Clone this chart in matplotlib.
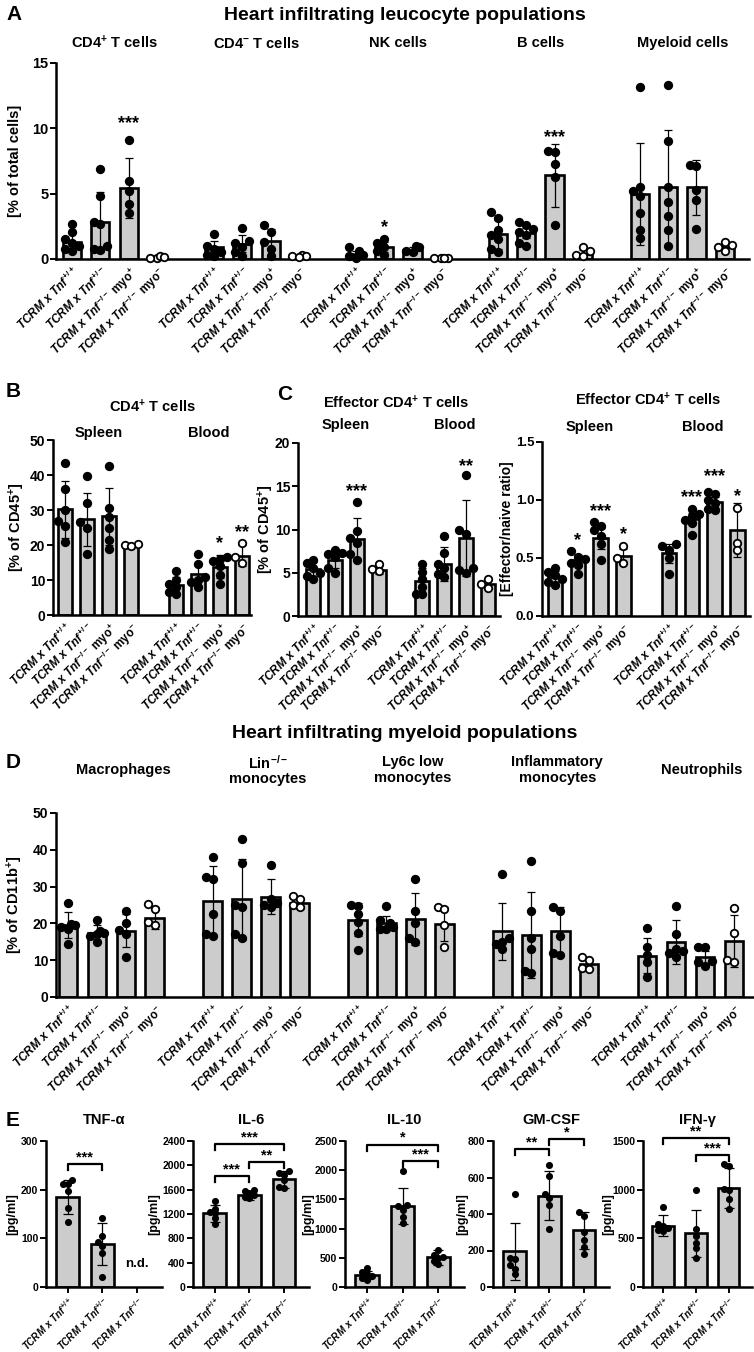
import matplotlib
matplotlib.use('Agg')
import matplotlib.pyplot as plt
from matplotlib import font_manager
from matplotlib.transforms import blended_transform_factory
import numpy as np

# ---------------- data ----------------
lab4 = [r'$\mathbfit{TCRM\ x}\ \mathit{Tnf}^{+/+}$',
        r'$\mathbfit{TCRM\ x}\ \mathit{Tnf}^{+/-}$',
        r'$\mathbfit{TCRM\ x}\ \mathit{Tnf}^{-/-}\ \mathbf{myo}^{\mathbf{+}}$',
        r'$\mathbfit{TCRM\ x}\ \mathit{Tnf}^{-/-}\ \mathbf{myo}^{\mathbf{-}}$']
lab3 = [r'$\mathbfit{TCRM\ x}\ \mathit{Tnf}^{+/+}$',
        r'$\mathbfit{TCRM\ x}\ \mathit{Tnf}^{+/-}$',
        r'$\mathbfit{TCRM\ x}\ \mathit{Tnf}^{-/-}$']

# A: heart infiltrating leucocytes [% of total cells]
a_titles = [r'CD4$^{\mathbf{+}}$ T cells', r'CD4$^{\mathbf{-}}$ T cells', 'NK cells', 'B cells', 'Myeloid cells']
a_means = [[1.3, 2.8, 5.4, 0.15], [0.9, 1.15, 1.35, 0.2], [0.4, 0.9, 0.7, 0.05],
           [1.9, 2.0, 6.4, 0.4], [5.0, 5.5, 5.5, 0.9]]
a_sd = [[0.7, 2.3, 2.3, 0.05], [0.5, 0.65, 0.95, 0.05], [0.25, 0.4, 0.25, 0.02],
        [1.1, 0.4, 2.4, 0.3], [3.9, 4.4, 2.1, 0.3]]
a_pts = [[[2.7, 2.1, 1.5, 1.2, 1.0, 0.8, 0.6], [6.9, 4.8, 2.8, 2.7, 1.0, 0.8, 0.7], [9.1, 6.0, 5.2, 4.2, 3.5], [0.1, 0.2, 0.15, 0.1]],
         [[1.9, 1.0, 0.8, 0.5, 0.3, 0.2], [2.4, 1.4, 1.2, 0.9, 0.5, 0.2], [2.6, 2.1, 1.3, 0.8, 0.2], [0.3, 0.2, 0.25, 0.15]],
         [[0.9, 0.6, 0.4, 0.3, 0.2, 0.1], [1.5, 1.2, 0.9, 0.6, 0.3], [1.0, 0.9, 0.6, 0.5], [0.05, 0.05, 0.05, 0.05]],
         [[3.6, 3.1, 2.2, 1.8, 1.5, 0.8, 0.5], [2.8, 2.6, 2.3, 2.1, 1.8, 1.2, 1.0], [8.3, 8.2, 7.3, 6.3, 2.6], [0.9, 0.6, 0.3, 0.2]],
         [[13.2, 5.5, 5.2, 4.8, 3.5, 2.2, 1.6], [13.3, 9.0, 5.5, 4.4, 3.3, 2.2, 1.0], [7.2, 7.1, 5.3, 4.5, 2.3], [1.3, 1.1, 0.9, 0.6]]]
a_stars = [(0, 2, 10.4, '***'), (2, 1, 2.4, '*'), (3, 2, 9.3, '***')]

# B: CD4+ T cells [% of CD45+]
b_means = [[30.2, 27.3, 28.2, 19.8], [8.7, 11.7, 13.8, 17.0]]
b_sd = [[8.2, 7.7, 8.1, 0.4], [2.3, 3.3, 3.3, 2.9]]
b_pts = [[[43.3, 36, 30, 27, 25.5, 21], [39.6, 32, 26.5, 25, 17.5], [42.6, 30.5, 28, 25, 21.5, 19], [20, 20.2, 19.7]],
         [[12.5, 10, 9, 8, 6.5, 6], [17.5, 14.5, 11, 9.5, 8, 10], [16.5, 16.0, 15.5, 14.0, 11.5, 9.0], [20.5, 16.5, 15.0]]]
b_stars = [(1, 2, 20.5, '*'), (1, 3, 23.5, '**')]

# C left: effector CD4+ T cells [% of CD45+]
c_means = [[5.4, 6.5, 8.9, 5.3], [4.0, 6.0, 9.0, 3.7]]
c_sd = [[0.8, 0.9, 2.4, 0.5], [1.6, 2.0, 4.4, 0.5]]
c_pts = [[[6.5, 6.1, 5.5, 5.0, 4.6, 4.3], [7.6, 7.3, 7.2, 6.8, 5.5, 5.0], [13.2, 9.8, 9.0, 8.4, 7.2, 6.5], [6.0, 5.4, 5.2]],
         [[6.0, 5.1, 4.3, 3.3, 2.6, 2.5], [9.2, 7.3, 6.0, 5.5, 4.8, 4.5], [16.3, 10.0, 9.5, 5.5, 5.0, 5.3], [4.3, 3.7, 3.2]]]
c_stars = [(0, 2, 14.4, '***'), (1, 2, 17.3, '**')]

# C right: effector/naive ratio
r_means = [[0.34, 0.48, 0.67, 0.52], [0.54, 0.84, 0.98, 0.74]]
r_sd = [[0.05, 0.05, 0.09, 0.06], [0.08, 0.05, 0.05, 0.23]]
r_pts = [[[0.41, 0.38, 0.35, 0.32, 0.29, 0.27], [0.56, 0.51, 0.49, 0.46, 0.44, 0.36], [0.81, 0.78, 0.74, 0.69, 0.62, 0.48], [0.60, 0.50, 0.46]],
         [[0.62, 0.60, 0.57, 0.50, 0.36], [0.92, 0.88, 0.86, 0.83, 0.80, 0.70], [1.07, 1.05, 1.0, 0.97, 0.92, 0.91], [0.93, 0.63, 0.57]]]
r_stars = [(0, 1, 0.65, '*'), (0, 2, 0.90, '***'), (0, 3, 0.70, '*'),
           (1, 1, 1.02, '***'), (1, 2, 1.20, '***'), (1, 3, 1.03, '*')]

# D: heart infiltrating myeloid populations [% of CD11b+]
d_titles = ['Macrophages', 'Lin$^{\\mathbf{-/-}}$\nmonocytes', 'Ly6c low\nmonocytes',
            'Inflammatory\nmonocytes', 'Neutrophils']
d_means = [[19.5, 17.5, 18.0, 21.5], [26.0, 26.5, 27.3, 25.5], [21.0, 20.2, 21.2, 19.8],
           [17.8, 16.8, 18.0, 9.0], [11.2, 15.0, 10.8, 15.2]]
d_sd = [[3.5, 2.2, 4.5, 3.0], [9.5, 11.0, 4.7, 1.5], [4.5, 1.8, 7.0, 4.7],
        [7.7, 11.7, 6.5, 1.3], [4.8, 6.0, 1.7, 7.0]]
d_pts = [[[25.5, 19.8, 19.5, 19.0, 18.5, 14.5], [21, 18, 17.5, 17, 15, 16.5], [23.5, 20, 18.3, 17, 11], [25.2, 24, 20.5, 19.5]],
         [[38, 32.5, 32, 22.5, 17, 16.5], [43, 36.5, 25, 24.5, 17, 16], [35.8, 26.5, 25.5, 25, 24.5], [27.5, 26.5, 25, 24.5]],
         [[25, 24.7, 22.5, 20.5, 17.5, 12.7], [24.7, 21, 20, 19, 18.5, 18.5], [32.2, 23.5, 20, 16, 15], [24.5, 24.0, 19.5, 13.5]],
         [[33.5, 16, 15, 14.5, 13], [37, 23.5, 16, 13, 6.5, 7], [24.5, 23.5, 16.5, 12, 11.5], [11, 10, 8, 7.5]],
         [[18.7, 13.5, 11.5, 9.5, 5.3], [24.8, 17, 13, 12.5, 12, 11], [13.5, 13.5, 9.8, 9.5, 8.5], [24.3, 17.5, 10, 9.5]]]

# E: cytokines [pg/ml]
e_titles = ['TNF-α', 'IL-6', 'IL-10', 'GM-CSF', 'IFN-γ']
e_ymax = [300, 2400, 2500, 800, 1500]
e_ystep = [100, 400, 500, 200, 500]
e_means = [[185, 88], [1210, 1510, 1775], [210, 1390, 510], [195, 500, 310], [630, 550, 1020]]
e_sd = [[35, 43], [135, 75, 140], [70, 305, 130], [158, 135, 100], [105, 240, 205]]
e_pts = [[[220, 212, 212, 197, 163, 133], [142, 105, 92, 85, 70, 20]],
         [[1420, 1290, 1230, 1210, 1130, 1040], [1600, 1580, 1550, 1520, 1480, 1460], [1900, 1870, 1840, 1760, 1650, 1620]],
         [[320, 260, 220, 190, 150, 120], [1980, 1400, 1380, 1320, 1200, 1090], [640, 540, 520, 490, 440, 400]],
         [[510, 160, 155, 120, 100, 70], [670, 610, 510, 490, 450, 320], [410, 390, 300, 260, 220, 180]],
         [[820, 650, 630, 610, 590, 580], [1000, 600, 520, 450, 400, 300], [1260, 1240, 1010, 1000, 900, 800]]]
e_brackets = [[(0, 1, 252, '***')],
              [(0, 1, 1830, '***'), (1, 2, 2050, '**'), (0, 2, 2350, '***')],
              [(1, 2, 2160, '***'), (0, 2, 2440, '*')],
              [(0, 1, 755, '**'), (1, 2, 810, '*')],
              [(1, 2, 1360, '***'), (0, 2, 1530, '**')]]

# ---------------- style ----------------
names = {f.name for f in font_manager.fontManager.ttflist}
FONT = 'Liberation Sans Narrow' if 'Liberation Sans Narrow' in names else 'Liberation Sans'
plt.rcParams['font.family'] = [FONT, 'DejaVu Sans']
plt.rcParams['font.weight'] = 'bold'
plt.rcParams['mathtext.fontset'] = 'custom'
plt.rcParams['mathtext.rm'] = FONT + ':bold'
plt.rcParams['mathtext.it'] = FONT + ':italic'
plt.rcParams['mathtext.bf'] = FONT + ':bold'
plt.rcParams['mathtext.bfit'] = FONT + ':italic:bold'

W, H = 754, 1352
fig = plt.figure(figsize=(W / 100, H / 100), dpi=100)
GREY = '#cccccc'


def add_ax(box):
    l, t, r, b = box
    return fig.add_axes([l / W, 1 - b / H, (r - l) / W, (b - t) / H])


def ftext(x, y, s, **kw):
    fig.text(x / W, 1 - y / H, s, **kw)


def spread(vals, w, thr):
    vals = np.asarray(vals, float)
    off = np.zeros(len(vals))
    done = []
    for idx in np.argsort(vals):
        for c in (0.0, -w, w, -0.5 * w, 0.5 * w):
            if all(abs(vals[idx] - v) >= thr or abs(c - o) >= w * 0.99 for v, o in done):
                break
        off[idx] = c
        done.append((vals[idx], c))
    return off


def style(ax, yticks, fs=10, fmt='{:g}'):
    for s in ['top', 'right']:
        ax.spines[s].set_visible(False)
    for s in ['left', 'bottom']:
        ax.spines[s].set_linewidth(1.8)
    ax.set_yticks(yticks)
    ax.set_yticklabels([fmt.format(v) for v in yticks])
    ax.tick_params(axis='y', length=4, width=1.4, labelsize=fs, pad=1.5)


def bars(ax, box, xlim, ylim, xs, means, sds, pts, opens, ms, bw=0.64, lw=1.9, elw=0.9, cap=3):
    l, t, r, b = box
    pxx = (r - l) / (xlim[1] - xlim[0])
    pxy = (b - t) / (ylim[1] - ylim[0])
    mpx = ms / 0.72
    w, thr = mpx * 0.9 / pxx, mpx * 0.9 / pxy
    for x, m, s, p, o in zip(xs, means, sds, pts, opens):
        ax.bar(x, m, bw, color=GREY, edgecolor='black', linewidth=lw, zorder=1)
        ax.errorbar(x, m, yerr=s, fmt='none', ecolor='black', elinewidth=elw,
                    capsize=cap, capthick=elw, zorder=3)
        off = spread(p, w, thr)
        ax.plot(x + off, p, 'o', ms=ms, mfc='white' if o else 'black', mec='black',
                mew=1.3, zorder=4, clip_on=False)
    ax.set_xlim(*xlim)
    ax.set_ylim(*ylim)


def grouped(ax, box, xlim, ylim, means, sds, pts, labels, ms=5.4, lfs=8.5):
    xs, mm, ss, pp, oo, labs = [], [], [], [], [], []
    for g in range(len(means)):
        for i in range(len(means[g])):
            xs.append(5 * g + i)
            mm.append(means[g][i]); ss.append(sds[g][i]); pp.append(pts[g][i])
            oo.append(i == 3); labs.append(labels[i])
    bars(ax, box, xlim, ylim, np.array(xs, float), mm, ss, pp, oo, ms)
    ax.set_xticks(xs)
    ax.set_xticklabels(labs, rotation=45, ha='right', va='top', rotation_mode='anchor', fontsize=lfs)
    ax.tick_params(axis='x', length=0, pad=4)


def star(ax, g, i, y, s, fs=13):
    ax.text(5 * g + i, y, s, ha='center', va='center', fontsize=fs, zorder=5, clip_on=False)


def over(ax, x, ypx, s, fs=10.5, **kw):
    tr = blended_transform_factory(ax.transData, fig.transFigure)
    ax.text(x, 1 - ypx / H, s, transform=tr, ha='center', va='center', fontsize=fs, **kw)


def ylabel(x, box, s, fs=10.5):
    ftext(x, (box[1] + box[3]) / 2, s, rotation=90, ha='center', va='center', fontsize=fs)


# ---------------- panel A ----------------
boxA = (56, 63, 749, 259)
axA = add_ax(boxA)
grouped(axA, boxA, (-0.56, 23.85), (0, 15), a_means, a_sd, a_pts, lab4)
style(axA, [0, 5, 10, 15], fs=10.5)
for g, s in enumerate(a_titles):
    over(axA, 5 * g + 1.5, 43, s)
for g, i, y, s in a_stars:
    star(axA, g, i, y, s)
ftext(6, 15, 'A', fontsize=15, ha='left', va='center')
ftext(405, 15, 'Heart infiltrating leucocyte populations', fontsize=14, ha='center', va='center')
ylabel(15, boxA, '[% of total cells]')

# ---------------- panel B ----------------
boxB = (53, 440, 251, 615)
axB = add_ax(boxB)
grouped(axB, boxB, (-0.54, 8.4), (0, 50), b_means, b_sd, b_pts, lab4)
style(axB, [0, 10, 20, 30, 40, 50])
for g, i, y, s in b_stars:
    star(axB, g, i, y, s)
over(axB, 1.5, 433, 'Spleen')
over(axB, 6.5, 433, 'Blood')
ftext(152, 407, r'CD4$^{\mathbf{+}}$ T cells', fontsize=10.5, ha='center', va='center')
ftext(6, 392, 'B', fontsize=15, ha='left', va='center')
ylabel(17, boxB, r'[% of CD45$^{\mathbf{+}}$]')

# ---------------- panel C left ----------------
boxC = (298, 443, 500, 616)
axC = add_ax(boxC)
grouped(axC, boxC, (-0.7, 8.55), (0, 20), c_means, c_sd, c_pts, lab4)
style(axC, [0, 5, 10, 15, 20])
for g, i, y, s in c_stars:
    star(axC, g, i, y, s)
over(axC, 1.5, 425, 'Spleen')
over(axC, 6.5, 425, 'Blood')
ftext(396, 403, r'Effector CD4$^{\mathbf{+}}$ T cells', fontsize=10.5, ha='center', va='center')
ftext(277, 395, 'C', fontsize=15, ha='left', va='center')
ylabel(266, boxC, r'[% of CD45$^{\mathbf{+}}$]')

# ---------------- panel C right ----------------
boxR = (542, 442, 750, 616)
axR = add_ax(boxR)
grouped(axR, boxR, (-0.57, 8.55), (0, 1.5), r_means, r_sd, r_pts, lab4)
style(axR, [0, 0.5, 1.0, 1.5], fs=9.5, fmt='{:.1f}')
for g, i, y, s in r_stars:
    star(axR, g, i, y, s)
over(axR, 1.5, 427, 'Spleen')
over(axR, 6.5, 427, 'Blood')
ftext(648, 400, r'Effector CD4$^{\mathbf{+}}$ T cells', fontsize=10.5, ha='center', va='center')
ylabel(507, boxR, '[Effector/naive ratio]', fs=10)

# ---------------- panel D ----------------
boxD = (56, 813, 754, 997)
axD = add_ax(boxD)
grouped(axD, boxD, (-0.41, 23.69), (0, 50), d_means, d_sd, d_pts, lab4)
style(axD, [0, 10, 20, 30, 40, 50])
for g, s in enumerate(d_titles):
    over(axD, 5 * g + 1.9, 770, s, linespacing=1.1)
ftext(6, 762, 'D', fontsize=15, ha='left', va='center')
ftext(405, 733, 'Heart infiltrating myeloid populations', fontsize=14, ha='center', va='center')
ylabel(15, boxD, r'[% of CD11b$^{\mathbf{+}}$]')

# ---------------- panel E ----------------
e_boxes = [(46, 1141, 162, 1287), (193, 1141, 309, 1287), (345, 1141, 464, 1287),
           (493, 1141, 609, 1287), (643, 1141, 752, 1287)]
e_ylab_x = [12, 154, 308, 462, 608]
for k in range(5):
    box = e_boxes[k]
    ax = add_ax(box)
    n = len(e_means[k])
    xs = np.arange(n, dtype=float)
    bars(ax, box, (-0.62, 2.72), (0, e_ymax[k]), xs, e_means[k], e_sd[k], e_pts[k],
         [False] * n, ms=3.8, bw=0.66, lw=1.9, elw=0.9, cap=3.5)
    style(ax, list(range(0, e_ymax[k] + 1, e_ystep[k])), fs=7.5)
    ax.set_xticks([0, 1, 2])
    ax.set_xticklabels(lab3, rotation=45, ha='right', va='top', rotation_mode='anchor', fontsize=7)
    ax.tick_params(axis='x', length=4, width=1.4, pad=2)
    arm = 6 * e_ymax[k] / (box[3] - box[1])
    for i, j, y, s in e_brackets[k]:
        ax.plot([i, i, j, j], [y - arm, y, y, y - arm], color='black', lw=1.6, clip_on=False, zorder=5)
        ax.text((i + j) / 2, y + arm * 1.1, s, ha='center', va='center', fontsize=10.5, clip_on=False)
    ftext((box[0] + box[2]) / 2, 1120, e_titles[k], fontsize=10.5, ha='center', va='center')
    ylabel(e_ylab_x[k], box, '[pg/ml]', fs=9)
    if k == 0:
        ax.text(2, 47, 'n.d.', ha='center', va='center', fontsize=9.5)
ftext(6, 1120, 'E', fontsize=15, ha='left', va='center')

fig.savefig('out.png', dpi=100)
